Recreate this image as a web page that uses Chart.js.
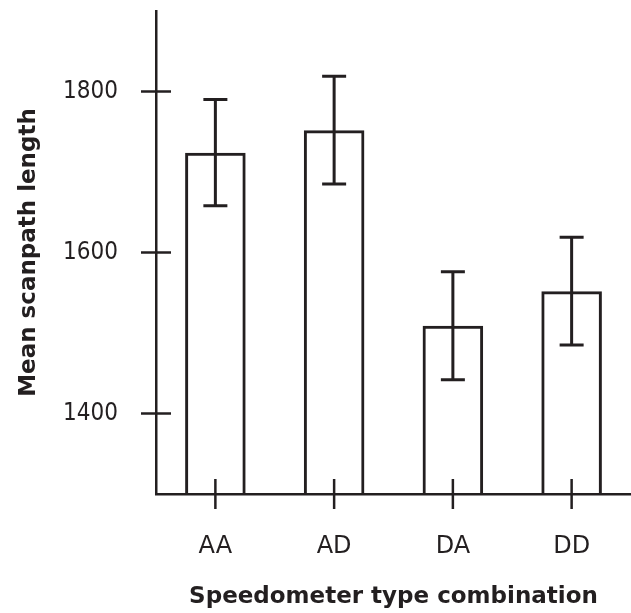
<!DOCTYPE html>
<html>
<head>
  <title>Mean scanpath length</title>
  <script src="https://cdn.jsdelivr.net/npm/chart.js"></script>
  <style>
    body { margin: 0; background: #fff; }
    #wrap { width: 631px; height: 613px; }
  </style>
</head>
<body>
  <div id="wrap"><canvas id="chart"></canvas></div>

  <script>
    const categories = ['AA', 'AD', 'DA', 'DD'];
    const means = [1724, 1752, 1509, 1552];
    const sem = [66, 67, 67, 67];
    const yTicks = [1400, 1600, 1800];

    const ink = '#231f20';
    const sans = "'DejaVu Sans', sans-serif";
    const narrow = "'DejaVu Sans Condensed', 'DejaVu Sans', sans-serif";

    // error bars plus ticks that cross the axis lines
    const extras = {
      id: 'extras',
      afterDatasetsDraw(chart) {
        const { ctx, scales: { x, y } } = chart;
        ctx.save();
        ctx.strokeStyle = ink;
        ctx.lineCap = 'butt';

        ctx.lineWidth = 3;
        means.forEach((m, i) => {
          const cx = x.getPixelForValue(i);
          const top = y.getPixelForValue(m + sem[i]);
          const bot = y.getPixelForValue(m - sem[i]);
          ctx.beginPath();
          ctx.moveTo(cx, top); ctx.lineTo(cx, bot);
          ctx.moveTo(cx - 12, top); ctx.lineTo(cx + 12, top);
          ctx.moveTo(cx - 12, bot); ctx.lineTo(cx + 12, bot);
          ctx.stroke();
        });

        ctx.lineWidth = 2.5;
        y.ticks.forEach((t, i) => {
          const py = y.getPixelForTick(i);
          ctx.beginPath();
          ctx.moveTo(x.left - 15, py); ctx.lineTo(x.left + 15, py);
          ctx.stroke();
        });
        categories.forEach((c, i) => {
          const px = x.getPixelForValue(i);
          ctx.beginPath();
          ctx.moveTo(px, y.bottom - 15); ctx.lineTo(px, y.bottom + 15);
          ctx.stroke();
        });
        ctx.restore();
      }
    };

    new Chart(document.getElementById('chart'), {
      type: 'bar',
      data: {
        labels: categories,
        datasets: [{
          data: means,
          backgroundColor: 'rgba(255,255,255,0)',
          borderColor: ink,
          borderWidth: 3,
          barPercentage: 0.51,
          categoryPercentage: 1
        }]
      },
      options: {
        responsive: true,
        maintainAspectRatio: false,
        animation: false,
        layout: { padding: { top: 11, right: 0, left: 0, bottom: 0 } },
        plugins: {
          legend: { display: false },
          tooltip: { enabled: false }
        },
        scales: {
          x: {
            grid: { display: false, drawTicks: false },
            border: { display: true, color: ink, width: 2.5 },
            ticks: { color: ink, padding: 38, font: { family: sans, size: 24 } },
            title: {
              display: true,
              text: 'Speedometer type combination',
              color: ink,
              padding: { top: 0, bottom: 2 },
              font: { family: sans, size: 23, weight: 'bold' }
            },
            afterFit: s => {
              s.height = 119;
              s.paddingLeft = 0; s.paddingRight = 0;
            }
          },
          y: {
            min: 1300,
            max: 1900,
            afterBuildTicks: s => { s.ticks = yTicks.map(v => ({ value: v })); },
            grid: { display: false, drawTicks: false },
            border: { display: true, color: ink, width: 2.5 },
            ticks: {
              color: ink,
              padding: 38,
              font: { family: narrow, size: 24 },
              callback: v => String(v)
            },
            title: {
              display: true,
              text: 'Mean scanpath length',
              color: ink,
              padding: { top: 15, bottom: 0 },
              font: { family: sans, size: 23, weight: 'bold' }
            },
            afterFit: s => {
              s.width = 156;
              s.paddingTop = 0; s.paddingBottom = 0;
            }
          }
        }
      },
      plugins: [extras]
    });
  </script>
</body>
</html>
